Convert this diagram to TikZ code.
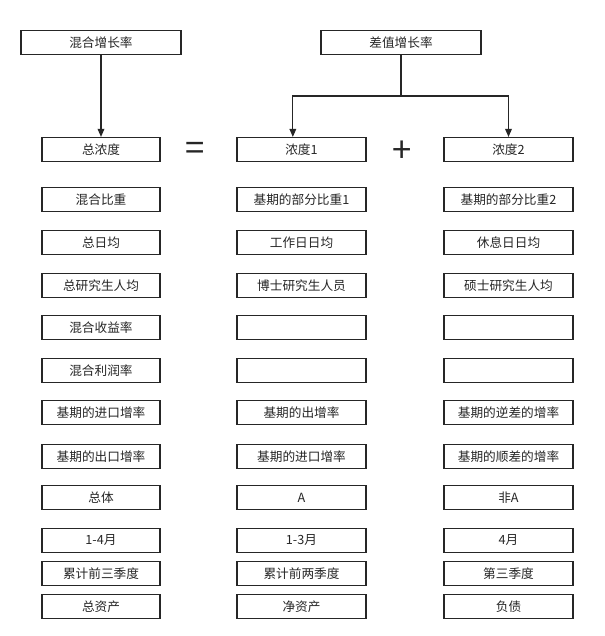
\documentclass[tikz,border=0pt]{standalone}
\usepackage{fontspec}
\setmainfont{Noto Sans CJK SC}
\usetikzlibrary{arrows.meta}
\begin{document}
\begin{tikzpicture}[x=0.75pt,y=-0.75pt,
  bx/.style={draw=black!85,line width=0.9pt,minimum height=18pt,inner sep=0pt,font=\fontsize{9.5}{11}\selectfont,text=black!85},
  c1/.style={bx,minimum width=88.5pt},
  c2/.style={bx,minimum width=96.75pt},
  ar/.style={draw=black!85,line width=0.9pt,-{Triangle[length=6pt,width=5pt]}}]
\useasboundingbox (0,0) rectangle (604,636);
\fill[white] (0,0) rectangle (604,636);
\node[bx,minimum width=120pt] (mix) at (101,42.5) {混合增长率};
\node[bx,minimum width=120pt] (diff) at (401,42.5) {差值增长率};
\def\rows{149.5/0/总浓度/浓度1/浓度2,199.5/1/混合比重/基期的部分比重1/基期的部分比重2,242.5/2/总日均/工作日日均/休息日日均,285.5/3/总研究生人均/博士研究生人员/硕士研究生人均,327.5/4/混合收益率//,370.5/5/混合利润率//,412.5/6/基期的进口增率/基期的出增率/基期的逆差的增率,456.5/7/基期的出口增率/基期的进口增率/基期的顺差的增率,497.5/8/总体/A/非A,540.5/9/1-4月/1-3月/4月,573.5/10/累计前三季度/累计前两季度/第三季度,606.5/11/总资产/净资产/负债}
\foreach \y/\i/\a/\b/\c in \rows {
  \node[c1] (a\i) at (101,\y) {\a};
  \node[c2] (b\i) at (301.5,\y) {\b};
  \node[c2] (c\i) at (508.5,\y) {\c};
}
\node[font=\fontsize{26}{26}\selectfont,text=black!85] (eq) at (195,151) {=};
\node[font=\fontsize{26}{26}\selectfont,text=black!85] (pl) at (402,152) {+};
\draw[ar] (mix) -- (a0);
\coordinate (j) at (401,96);
\draw[draw=black!85,line width=0.9pt] (diff) -- (j);
\draw[ar] (j) -| ([xshift=-6.5]b0.north);
\draw[ar] (j) -| (c0.north);
\end{tikzpicture}
\end{document}
